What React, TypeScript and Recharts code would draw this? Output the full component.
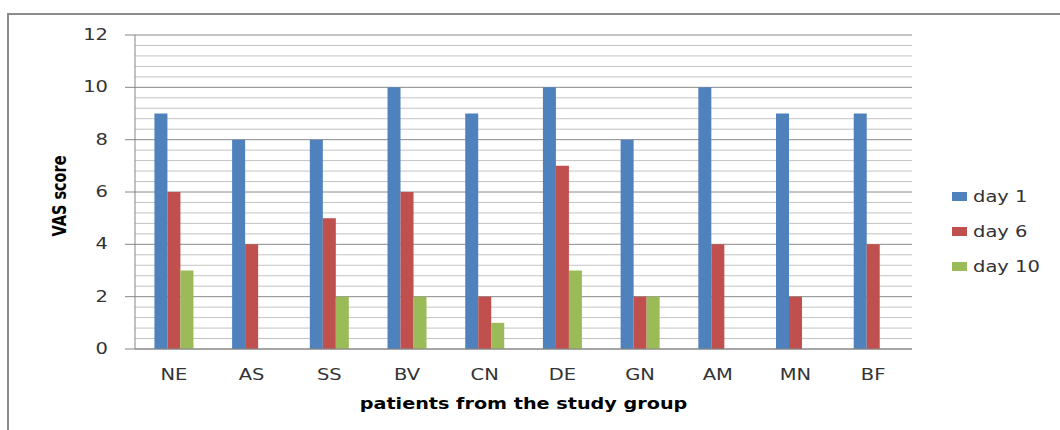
import React from 'react';
import { BarChart, Bar, XAxis, YAxis, CartesianGrid, Label } from 'recharts';

// values
const patients = ['NE', 'AS', 'SS', 'BV', 'CN', 'DE', 'GN', 'AM', 'MN', 'BF'];
const day1 = [9, 8, 8, 10, 9, 10, 8, 10, 9, 9];
const day6 = [6, 4, 5, 6, 2, 7, 2, 4, 2, 4];
const day10 = [3, 0, 2, 2, 1, 3, 2, 0, 0, 0];
const yTicks = [0, 2, 4, 6, 8, 10, 12];
const minorTicks = [0.4, 0.8, 1.2, 1.6, 2.4, 2.8, 3.2, 3.6, 4.4, 4.8, 5.2, 5.6, 6.4, 6.8, 7.2, 7.6, 8.4, 8.8, 9.2, 9.6, 10.4, 10.8, 11.2, 11.6];
const yMax = 12;

const series = [
  { key: 'day1', name: 'day 1', color: '#4F81BD' },
  { key: 'day6', name: 'day 6', color: '#C0504D' },
  { key: 'day10', name: 'day 10', color: '#9BBB59' },
];

const data = patients.map((p, i) => ({ patient: p, day1: day1[i], day6: day6[i], day10: day10[i] }));

const FONT = '"DejaVu Sans", Verdana, sans-serif';
const SX = 1.3; // the reference text is stretched sideways

// y positions for the grid lines
const gridFrom = (values: number[]) => (props: any) => {
  const scale = props?.yAxis?.scale;
  if (typeof scale === 'function') return values.map(v => scale(v));
  if (scale && typeof scale.map === 'function') return values.map(v => scale.map(v));
  const off = props?.offset;
  if (!off) return [];
  return values.map(v => off.top + off.height * (1 - v / yMax));
};

const YTick = (props: any) => {
  const { x, y, payload } = props;
  return (
    <text transform={`translate(${x},${y + 5}) scale(${SX},1)`} textAnchor="end" fontSize={15} fontFamily={FONT} fill="#333">
      {payload.value}
    </text>
  );
};

const XTick = (props: any) => {
  const { x, y, payload } = props;
  return (
    <text transform={`translate(${x},${y + 31}) scale(${SX},1)`} textAnchor="middle" fontSize={15} fontFamily={FONT} fill="#333">
      {payload.value}
    </text>
  );
};

const XTitle = (props: any) => {
  const { x, y, width } = props.viewBox;
  return (
    <text transform={`translate(${x + width / 2},${y + 60}) scale(1.28,1)`} textAnchor="middle" fontSize={15} fontWeight="bold" fontFamily={FONT} fill="#000">
      patients from the study group
    </text>
  );
};

const YTitle = (props: any) => {
  const { y, height } = props.viewBox;
  return (
    <text transform={`translate(66,${y + height / 2 + 4}) scale(${SX},1) rotate(-90)`} textAnchor="middle" fontSize={14.5} fontWeight="bold" fontFamily={FONT} fill="#000">
      VAS score
    </text>
  );
};

export default function App() {
  return (
    <div style={{ position: 'absolute', left: 0, top: 0, width: 1060, height: 430, background: '#fff', overflow: 'hidden' }}>
      {/* outer frame, only top and left edges show */}
      <div style={{ position: 'absolute', left: 7, top: 13, width: 1100, height: 500, borderTop: '2px solid #8c8c8c', borderLeft: '2px solid #8c8c8c' }} />
      <BarChart
        width={1060}
        height={430}
        data={data}
        margin={{ top: 35, right: 148, bottom: 21, left: 0 }}
        barCategoryGap="25%"
        barGap={0}
      >
        <CartesianGrid vertical={false} horizontalCoordinatesGenerator={gridFrom(minorTicks)} stroke="#c3c3c3" />
        <CartesianGrid vertical={false} horizontalCoordinatesGenerator={gridFrom(yTicks)} stroke="#8a8a8a" />
        <XAxis dataKey="patient" height={60} tickSize={0} tickMargin={0} tickLine={false} axisLine={{ stroke: '#868686' }} tick={<XTick />} interval={0}>
          <Label content={<XTitle />} />
        </XAxis>
        <YAxis width={135} domain={[0, yMax]} ticks={yTicks} tickSize={10} tickMargin={17} tickLine={{ stroke: '#868686' }} axisLine={{ stroke: '#868686' }} tick={<YTick />}>
          <Label content={<YTitle />} />
        </YAxis>
        {series.map(s => (
          <Bar key={s.key} dataKey={s.key} name={s.name} fill={s.color} isAnimationActive={false} />
        ))}
      </BarChart>
      {/* legend */}
      <div style={{ position: 'absolute', left: 952, top: 179 }}>
        {series.map(s => (
          <div key={s.key} style={{ height: 35, display: 'flex', alignItems: 'center', position: 'relative' }}>
            <div style={{ width: 15, height: 9, background: s.color }} />
            <span style={{ marginLeft: 6, fontFamily: FONT, fontSize: 15, color: '#333', display: 'inline-block', transform: `scale(${SX},1)`, transformOrigin: 'left center', whiteSpace: 'nowrap' }}>
              {s.name}
            </span>
          </div>
        ))}
      </div>
    </div>
  );
}
